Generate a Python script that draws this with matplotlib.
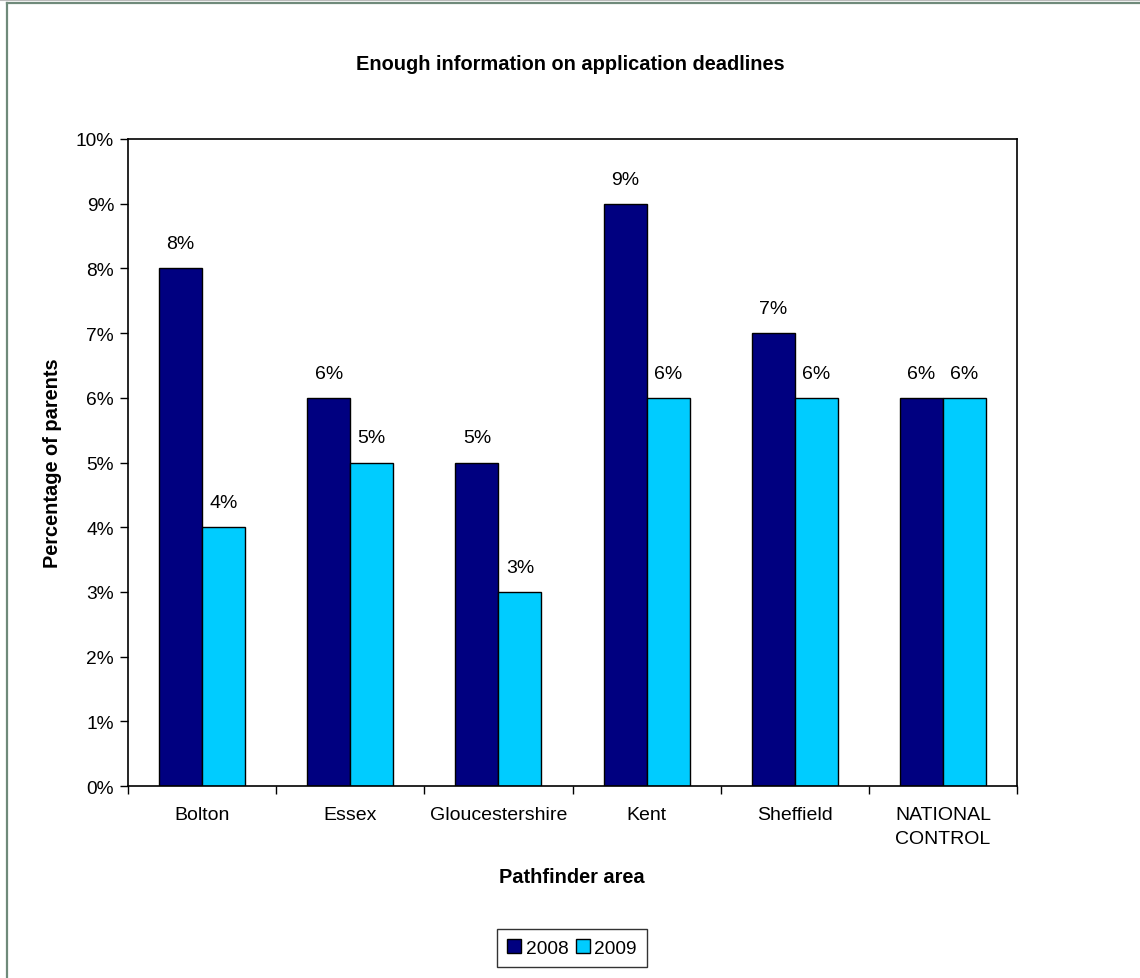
import numpy as np
import matplotlib
matplotlib.use('Agg')
import matplotlib.pyplot as plt
from matplotlib.lines import Line2D
from matplotlib.ticker import FixedLocator, NullFormatter

plt.rcParams['font.family'] = ['Liberation Sans', 'DejaVu Sans']

areas = ['Bolton', 'Essex', 'Gloucestershire', 'Kent', 'Sheffield', 'NATIONAL\nCONTROL']
pct_2008 = [8, 6, 5, 9, 7, 6]
pct_2009 = [4, 5, 3, 6, 6, 6]
y_ticks = [0, 1, 2, 3, 4, 5, 6, 7, 8, 9, 10]

navy = '#000080'
cyan = '#00CCFF'

fig = plt.figure(figsize=(11.4, 9.79), dpi=100)
ax = fig.add_axes([128 / 1140, 1 - 787 / 979, 889 / 1140, 647 / 979])

x = np.arange(len(areas))
w = 0.29
b1 = ax.bar(x - w / 2, pct_2008, w, color=navy, edgecolor='black', linewidth=1.0, label='2008')
b2 = ax.bar(x + w / 2, pct_2009, w, color=cyan, edgecolor='black', linewidth=1.0, label='2009')

for bars, vals in ((b1, pct_2008), (b2, pct_2009)):
    for rect, v in zip(bars, vals):
        ax.text(rect.get_x() + rect.get_width() / 2, v + 0.25, f'{v}%',
                ha='center', va='bottom', fontsize=14)

ax.set_xlim(-0.5, len(areas) - 0.5)
ax.set_ylim(0, 10)
ax.set_yticks(y_ticks)
ax.set_yticklabels([f'{t}%' for t in y_ticks], fontsize=13.8)

# group labels at centres, tick marks between groups
ax.xaxis.set_major_locator(FixedLocator(np.arange(-0.5, len(areas), 1.0)))
ax.xaxis.set_major_formatter(NullFormatter())
ax.xaxis.set_minor_locator(FixedLocator(x))
ax.set_xticklabels(areas, minor=True, fontsize=14, linespacing=1.5)
ax.tick_params(axis='x', which='minor', length=0, pad=14.5)
ax.tick_params(axis='x', which='major', length=6, width=1, direction='out')
ax.tick_params(axis='y', length=6, width=1, direction='out', pad=4)
for s in ax.spines.values():
    s.set_linewidth(1.2)

fig.text(570 / 1140, 1 - 65 / 979, 'Enough information on application deadlines',
         ha='center', va='center', fontsize=14.4, fontweight='bold')
fig.text(53 / 1140, 1 - 463 / 979, 'Percentage of parents', rotation=90,
         ha='center', va='center', fontsize=14.4, fontweight='bold')
fig.text(572 / 1140, 1 - 878 / 979, 'Pathfinder area',
         ha='center', va='center', fontsize=14.4, fontweight='bold')

handles = [Line2D([], [], marker='s', linestyle='none', markersize=9.5,
                  markerfacecolor=c, markeredgecolor='black') for c in (navy, cyan)]
leg = fig.legend(handles, ['2008', '2009'], loc='center', ncol=2,
                 bbox_to_anchor=(572 / 1140, 1 - 949 / 979), fontsize=13.8,
                 frameon=True, fancybox=False, edgecolor='black',
                 handlelength=0.7, handletextpad=0.25, columnspacing=0.4,
                 borderpad=0.55, borderaxespad=0)
leg.get_frame().set_linewidth(1.0)

# outer frame lines along the top and left edge
fig.add_artist(Line2D([0, 1], [1 - 0.5 / 979, 1 - 0.5 / 979], color='#bbbbbb', linewidth=1.5))
fig.add_artist(Line2D([7 / 1140, 1], [1 - 4 / 979, 1 - 4 / 979], color='#6f8a7a', linewidth=1.6))
fig.add_artist(Line2D([7 / 1140, 7 / 1140], [0, 1 - 4 / 979], color='#6f8a7a', linewidth=1.6))

fig.savefig('out.png', dpi=100)
